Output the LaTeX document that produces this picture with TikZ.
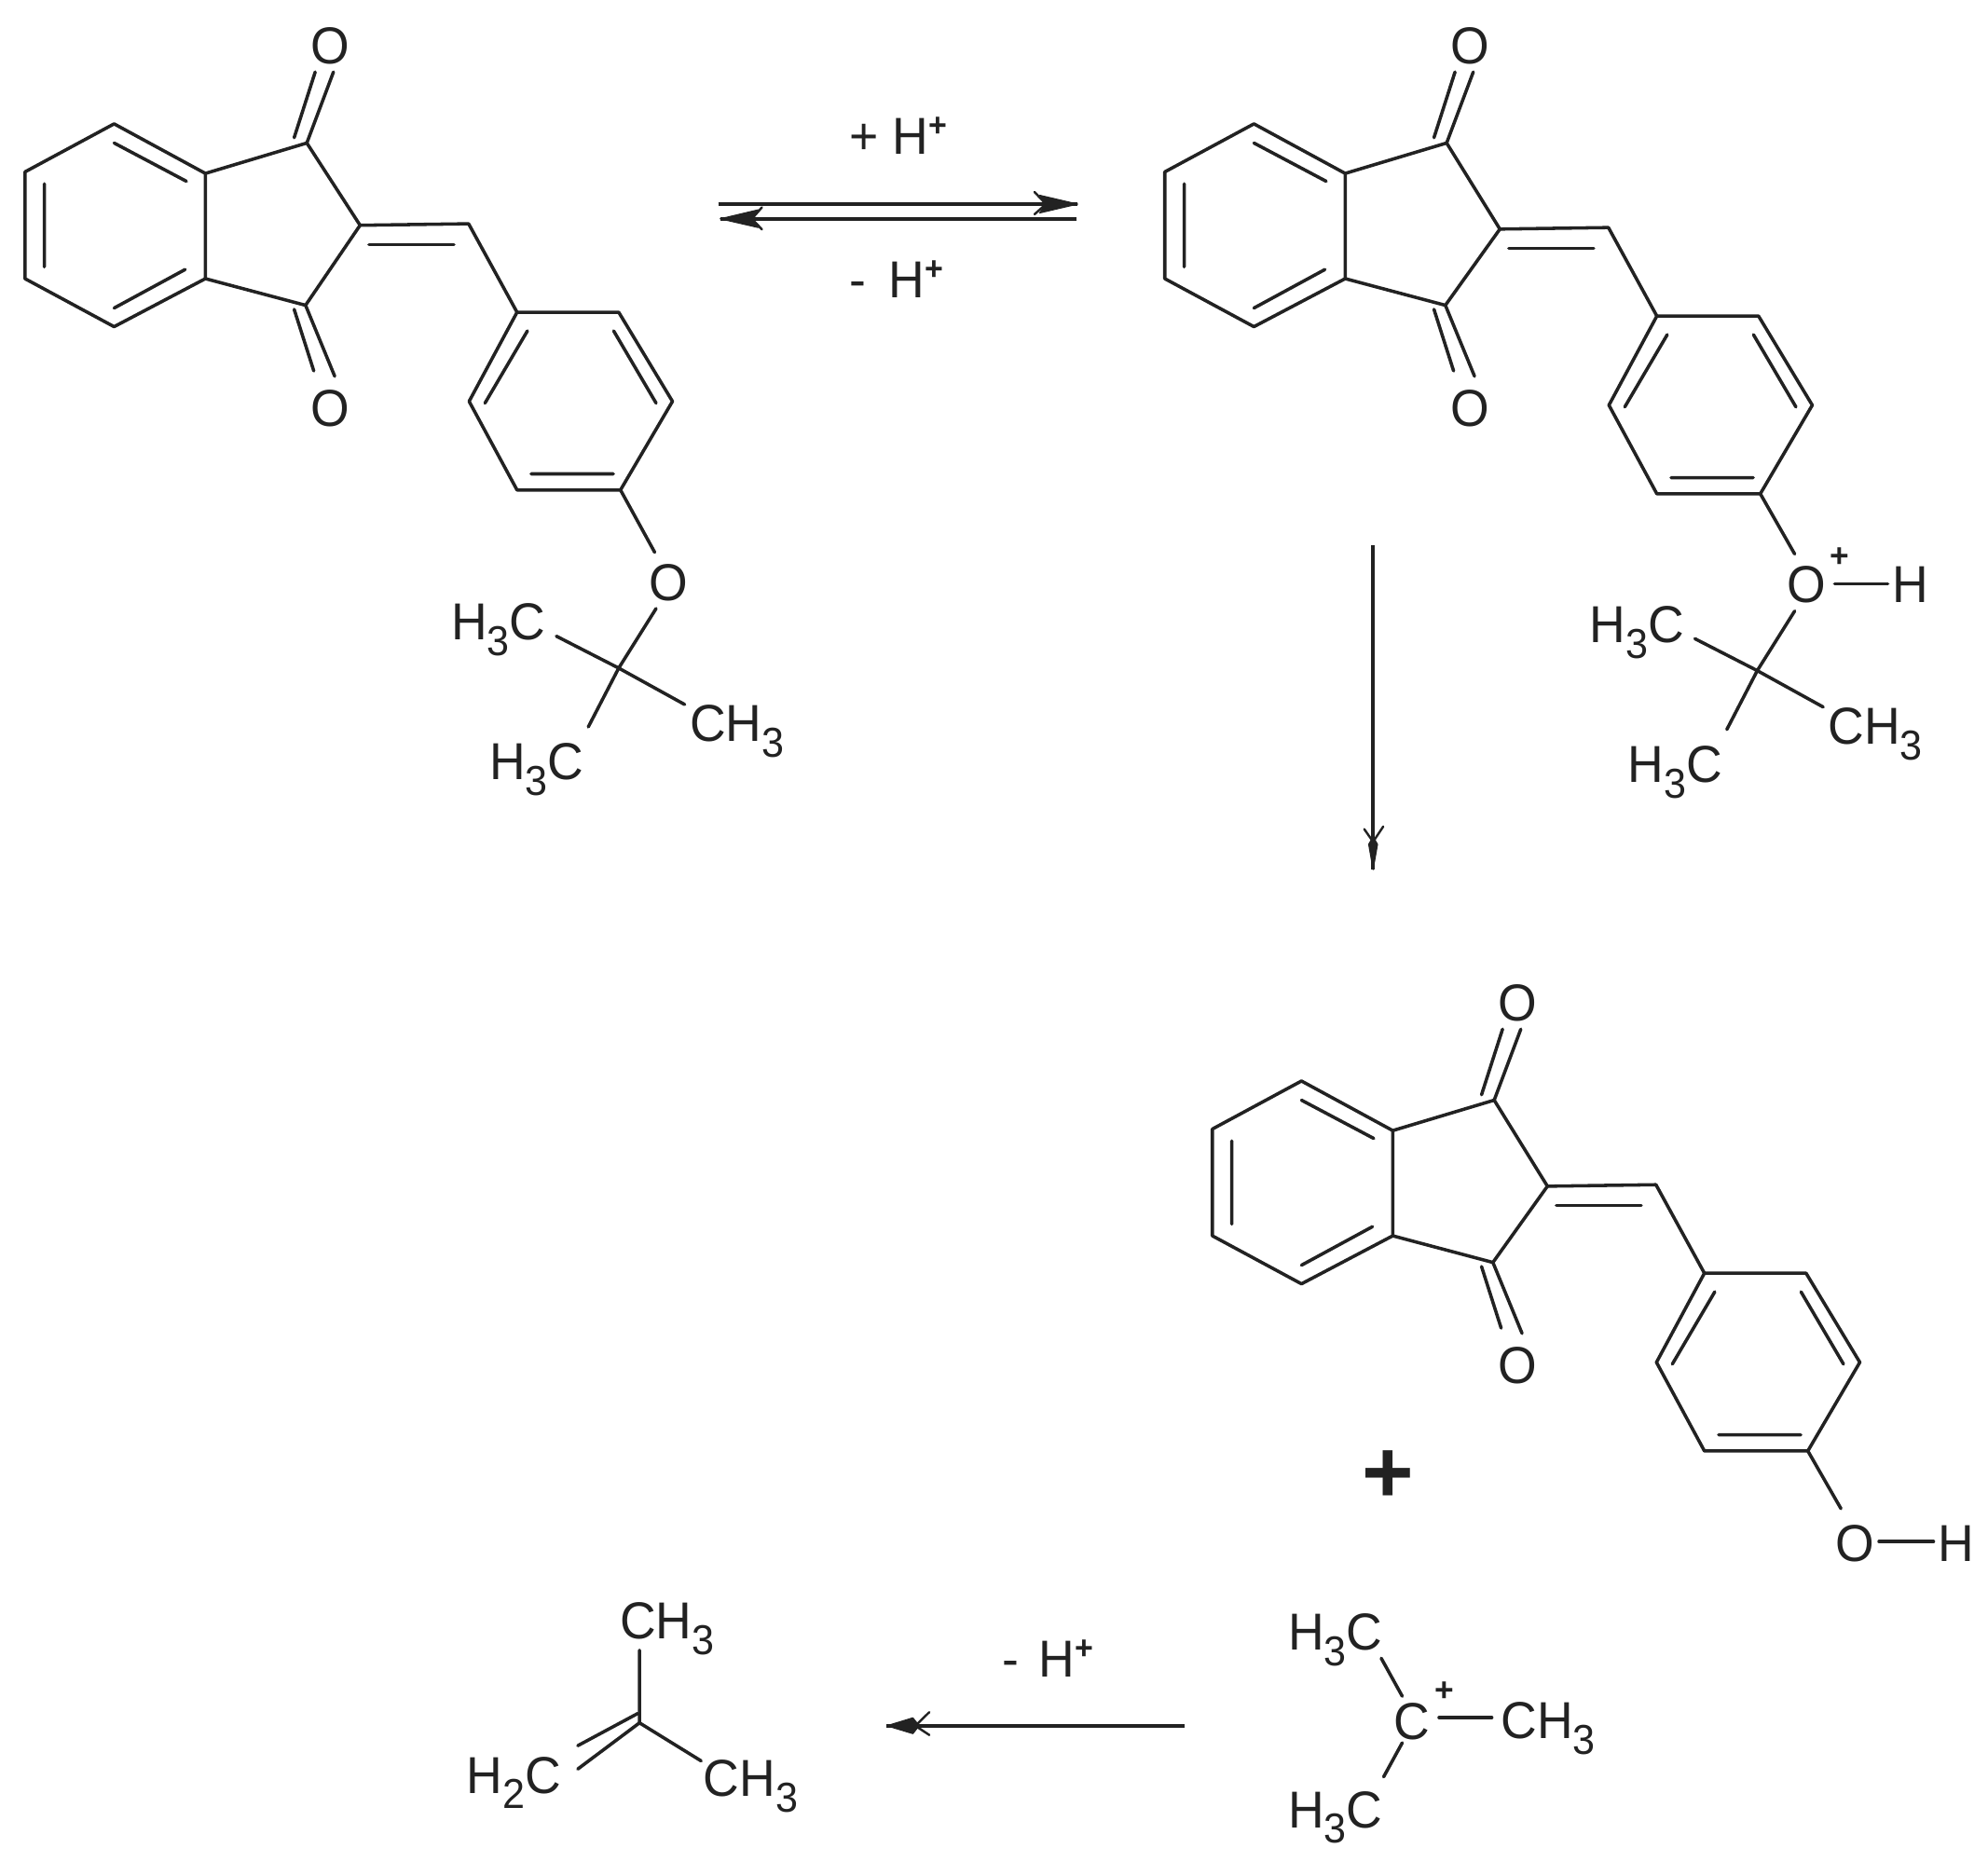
\documentclass[tikz,border=0pt]{standalone}
\usepackage{fontspec}
\setmainfont{Liberation Sans}
\definecolor{ink}{HTML}{222222}
\newcommand{\subd}[1]{\raisebox{-.3em}{\fontsize{33}{33}\selectfont #1}}
\newcommand{\supplus}{\raisebox{14pt}{\fontsize{26}{26}\selectfont\bfseries +}}
\tikzset{
  bond/.style={draw=ink,line width=2.6pt,line cap=round,line join=round},
  rxn/.style={draw=ink,line width=2.6pt},
  txt/.style={inner sep=0pt,outer sep=0pt,text=ink,font=\fontsize{41}{41}\selectfont,xscale=.96,transform shape},
  lbl/.style={txt,anchor=base west},
  atom/.style={txt,anchor=base},
  charge/.style={inner sep=0pt,text=ink,font=\fontsize{26}{26}\selectfont\bfseries},
  headfill/.style={fill=ink,draw=ink,line width=.8pt,line join=round},
  barb/.style={draw=ink,line width=1.8pt,line cap=round}
}
% #1 prefix, #2 dx, #3 dy, #4 extra dy of C2, exocyclic carbon and aryl ring
\newcommand{\core}[4]{%
\begin{scope}[shift={(#2,#3)}]
  \coordinate (#1b1) at (90,97.7);
  \coordinate (#1b2) at (19.7,135.6);
  \coordinate (#1b3) at (19.7,219.8);
  \coordinate (#1b4) at (90,257.7);
  \coordinate (#1b5) at (162,219.8);
  \coordinate (#1b6) at (162,136.8);
  \coordinate (#1c1) at (242,112.8);
  \coordinate (#1c2) at (284,{177.7+#4});
  \coordinate (#1c3) at (241,240.8);
  \coordinate (#1ex) at (369.6,{176.5+#4});
  \coordinate (#1ra) at (407.8,{246.3+#4});
  \coordinate (#1rb) at (488,{246.3+#4});
  \coordinate (#1rc) at (530.4,{316.6+#4});
  \coordinate (#1rd) at (489.4,{386.5+#4});
  \coordinate (#1re) at (407.8,{386.5+#4});
  \coordinate (#1rf) at (370,{316.6+#4});
  \draw[bond] (#1b1)--(#1b2)--(#1b3)--(#1b4)--(#1b5)--(#1b6)--cycle;
  \draw[bond] (90,112.8)--(147,143) (35,145)--(35,210.5) (90,243)--(146,212.6);
  \draw[bond] (#1b6)--(#1c1)--(#1c2)--(#1c3)--(#1b5);
  \draw[bond] (#1c2)--(#1ex)--(#1ra);
  \draw[bond] (291,{192.8+#4})--(358,{192.8+#4});
  \draw[bond] (#1ra)--(#1rb)--(#1rc)--(#1rd)--(#1re)--(#1rf)--cycle;
  \draw[bond] (416,{261+#4})--(382.5,{318+#4}) (484,{261+#4})--(517.5,{318+#4}) (419,{373.8+#4})--(483.8,{373.8+#4});
  \node[atom] (#1ot) at (260.4,50) {O};
  \node[atom] (#1ob) at (260.4,336) {O};
  \draw[bond] (232,108.6)--(248.6,56.8) (#1c1)--(263,56.8);
  \draw[bond] (232,244)--(247.5,292.6) (#1c3)--(264,296.8);
\end{scope}}
% #1 prefix, #2 dx, #3 dy
\newcommand{\tbu}[3]{%
\begin{scope}[shift={(#2,#3)}]
  \coordinate (#1q) at (488,527);
  \coordinate (#1e1) at (438.8,501.8);
  \coordinate (#1e2) at (540,555.7);
  \coordinate (#1e3) at (464,573.4);
  \coordinate (#1e0) at (517.5,480);
  \draw[bond] (#1q)--(#1e0) (#1q)--(#1e1) (#1q)--(#1e2) (#1q)--(#1e3);
  \node[lbl] (#1me1) at (356,505) {H\subd{3}C};
  \node[lbl] (#1me2) at (544,585) {CH\subd{3}};
  \node[lbl] (#1me3) at (386,615) {H\subd{3}C};
\end{scope}}
\begin{document}
\begin{tikzpicture}[x=1pt,y=-1pt]
\useasboundingbox (0,0) rectangle (1568,1468.7);
\fill[white] (0,0) rectangle (1568,1468.7);

% first molecule
\core{a}{0}{0}{0}
\node[atom] (aO) at (527.6,474) {O};
\draw[bond] (ard)--(516.4,435.7);
\tbu{at}{0}{0}

% equilibrium arrows
\coordinate (eqR1) at (566.4,161);
\coordinate (eqR2) at (850,161);
\coordinate (eqL1) at (849.4,172.6);
\coordinate (eqL2) at (568,172.6);
\draw[rxn] (eqR1)--(eqR2);
\draw[rxn] (eqL1)--(eqL2);
\fill[headfill] (eqR2)--(820,154)--(825,161)--(820,168)--cycle;
\draw[barb] (825,161)--(816,151.5) (825,161)--(816,169);
\fill[headfill] (eqL2)--(598,165.5)--(593,172.6)--(598,179.5)--cycle;
\draw[barb] (593,172.6)--(601,163.5) (593,172.6)--(601,181);
\node[lbl] (pl1) at (670,122) {+ H\supplus};
\node[lbl] (mi1) at (670,235) {- \hspace{.18em}H\supplus};

% second molecule
\core{b}{899}{0}{3}
\node[atom] (bO) at (1425,475) {O};
\node[charge] (bplus) at (1451,440) {+};
\node[atom] (bH) at (1507,475) {H};
\coordinate (bo1) at (1447,460.5);
\coordinate (bo2) at (1489,460.5);
\draw[bond] (brd)--(1415.5,437);
\draw[bond] (bo1)--(bo2);
\tbu{bt}{898}{2}

% vertical arrow
\coordinate (vA) at (1083,430);
\coordinate (vB) at (1083,686);
\draw[rxn] (vA)--(vB);
\fill[headfill] (vB)--(1079.5,666)--(1083,660)--(1086.5,666)--cycle;
\draw[barb] (1083,664)--(1076,654) (1083,664)--(1091,652);

% third molecule
\core{c}{936.5}{755}{3}
\node[atom] (cO) at (1463,1232) {O};
\node[atom] (cH) at (1543,1232) {H};
\coordinate (co1) at (1482,1216);
\coordinate (co2) at (1525,1216);
\draw[bond] (crd)--(1452,1190);
\draw[bond] (co1)--(co2);
\node[inner sep=0pt,text=ink,font=\fontsize{70}{70}\selectfont\bfseries] (bigplus) at (1095,1165) {+};

% tert-butyl cation
\node[atom] (kC) at (1113.8,1372) {C};
\node[charge] (kplus) at (1139.4,1334) {+};
\node[lbl] (kme1) at (1184,1371.6) {CH\subd{3}};
\node[lbl] (kme2) at (1016,1301.7) {H\subd{3}C};
\node[lbl] (kme3) at (1016,1441.7) {H\subd{3}C};
\coordinate (k0) at (1135,1354.8);
\coordinate (k1) at (1176.6,1354.8);
\draw[bond] (k0)--(k1);
\draw[bond] (1106,1338)--(1089.4,1308);
\draw[bond] (1106,1374.7)--(1091.3,1401.6);

% bottom arrow
\coordinate (hA) at (934,1361.3);
\coordinate (hB) at (699.4,1361.3);
\draw[rxn] (hA)--(hB);
\fill[headfill] (hB)--(720,1355)--(725,1361.3)--(720,1367.5)--cycle;
\draw[barb] (722,1361.3)--(733,1350.5) (722,1361.3)--(733,1368.6);
\node[lbl] (mi2) at (790.8,1323) {- \hspace{.12em}H\supplus};

% isobutene
\coordinate (iC) at (504.4,1359);
\coordinate (iT) at (504.4,1301.7);
\coordinate (iR) at (553,1389);
\coordinate (iL1) at (455.7,1395.4);
\coordinate (iL2) at (455.7,1377);
\coordinate (iC2) at (503,1351.6);
\draw[bond] (iT)--(iC)--(iR);
\draw[bond] (iC)--(iL1);
\draw[bond] (iC2)--(iL2);
\node[lbl] (ime1) at (489,1292.7) {CH\subd{3}};
\node[lbl] (ime2) at (555,1417) {CH\subd{3}};
\node[lbl] (ich2) at (368,1414.5) {H\subd{2}C};
\end{tikzpicture}
\end{document}
